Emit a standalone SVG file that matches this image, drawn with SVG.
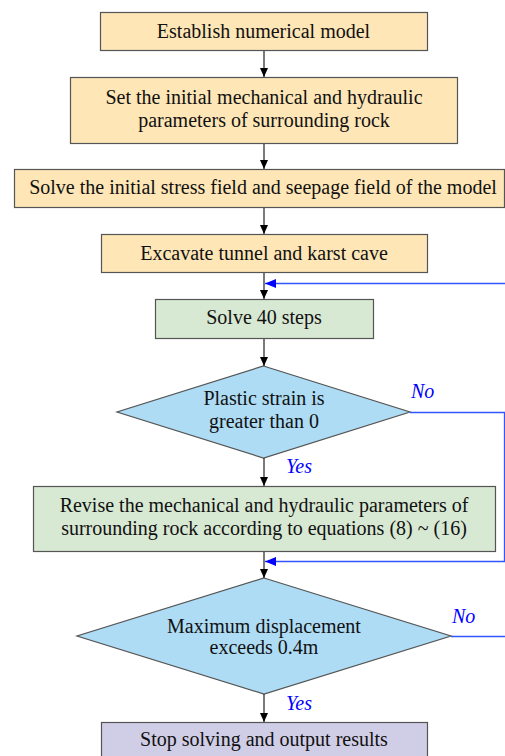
<svg xmlns="http://www.w3.org/2000/svg" width="505" height="756" viewBox="0 0 505 756">
<defs>
<marker id="ab" markerWidth="10" markerHeight="10" refX="9" refY="5" orient="auto" markerUnits="userSpaceOnUse"><path d="M0,1 L9,5 L0,9 Z" fill="#000"/></marker>
<marker id="au" markerWidth="12" markerHeight="10" refX="11" refY="5" orient="auto" markerUnits="userSpaceOnUse"><path d="M0,0.5 L11,5 L0,9.5 Z" fill="#0000FF"/></marker>
</defs>
<style>
.y{fill:#FEE6B6;stroke:#555;stroke-width:1.2}
.g{fill:#D7E8D3;stroke:#555;stroke-width:1.2}
.b{fill:#AEDCF5;stroke:#555;stroke-width:1.2}
.p{fill:#D0CDE6;stroke:#555;stroke-width:1.2}
.t{font-family:'Liberation Serif','Times New Roman',serif;font-size:20px;fill:#111;text-anchor:middle}
.l{font-family:'Liberation Serif','Times New Roman',serif;font-size:20px;fill:#0000FF;font-style:italic}
.c{stroke:#333;stroke-width:1.3;fill:none}
.u{stroke:#3355FF;stroke-width:1.3;fill:none}
</style>
<g id="n1"><rect class="y" x="100.5" y="12.5" width="327" height="38"/><text class="t" x="263.5" y="38">Establish numerical model</text></g>
<g id="n2"><rect class="y" x="70.5" y="77.5" width="387" height="66"/><text class="t" x="264" y="104">Set the initial mechanical and hydraulic</text><text class="t" x="264" y="127">parameters of surrounding rock</text></g>
<g id="n3"><rect class="y" x="14.5" y="169.5" width="490" height="38"/><text class="t" x="263" y="194">Solve the initial stress field and seepage field of the model</text></g>
<g id="n4"><rect class="y" x="101.5" y="234.5" width="326" height="38"/><text class="t" x="264" y="260">Excavate tunnel and karst cave</text></g>
<g id="n5"><rect class="g" x="155.5" y="299.5" width="218" height="39"/><text class="t" x="264" y="324">Solve 40 steps</text></g>
<g id="n6"><polygon class="b" points="263.5,366 410,412 263.5,458 117,412"/><text class="t" x="264" y="405">Plastic strain is</text><text class="t" x="264" y="428">greater than 0</text></g>
<g id="n7"><rect class="g" x="33.5" y="486.5" width="462" height="65"/><text class="t" x="264" y="512">Revise the mechanical and hydraulic parameters of</text><text class="t" x="264" y="535">surrounding rock according to equations (8) ~ (16)</text></g>
<g id="n8"><polygon class="b" points="264,578 451,636 264,694 77,636"/><text class="t" x="264" y="633">Maximum displacement</text><text class="t" x="264" y="654">exceeds 0.4m</text></g>
<g id="n9"><rect class="p" x="101.5" y="722.5" width="326" height="40"/><text class="t" x="264" y="746">Stop solving and output results</text></g>
<g id="connectors">
<line class="c" x1="264" y1="51" x2="264" y2="77" marker-end="url(#ab)"/>
<line class="c" x1="264" y1="144" x2="264" y2="169" marker-end="url(#ab)"/>
<line class="c" x1="264" y1="208" x2="264" y2="234" marker-end="url(#ab)"/>
<line class="c" x1="264" y1="273" x2="264" y2="299" marker-end="url(#ab)"/>
<line class="c" x1="264" y1="339" x2="264" y2="366" marker-end="url(#ab)"/>
<line class="c" x1="264" y1="458" x2="264" y2="486" marker-end="url(#ab)"/>
<line class="c" x1="264" y1="552" x2="264" y2="578" marker-end="url(#ab)"/>
<line class="c" x1="264" y1="694" x2="264" y2="722" marker-end="url(#ab)"/>
<polyline class="u" points="505,283.5 265,283.5" marker-end="url(#au)"/>
<polyline class="u" points="410,412.5 504.5,412.5 504.5,561.5 265,561.5" marker-end="url(#au)"/>
<polyline class="u" points="451,636.5 505,636.5"/>
<text class="l" x="411" y="398">No</text>
<text class="l" x="286" y="473">Yes</text>
<text class="l" x="452" y="623">No</text>
<text class="l" x="286" y="710">Yes</text>
</g>
</svg>
